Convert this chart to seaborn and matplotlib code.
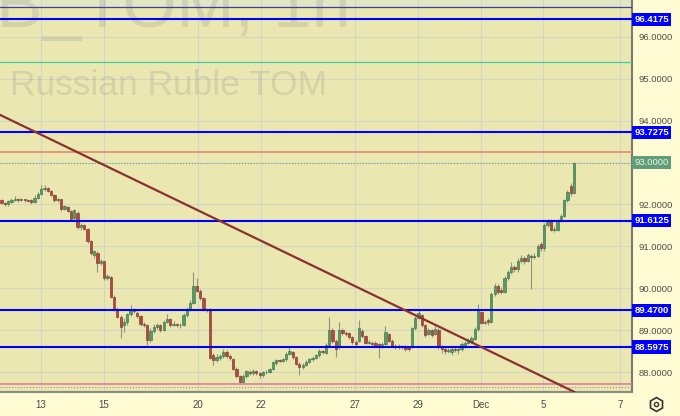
import numpy as np
import pandas as pd
import matplotlib as mpl
mpl.use('Agg')
import matplotlib.pyplot as plt
import matplotlib.transforms as mtransforms
from matplotlib.lines import Line2D
import seaborn as sns

# hourly candles, USD/RUB TOM, Nov 10 - Dec 6
opens = [92.11, 92.03, 92.00, 92.06, 92.10, 92.14, 92.10, 92.12, 92.10, 92.10,
         92.05, 92.15, 92.25, 92.36, 92.39, 92.32, 92.23, 92.10, 92.12, 91.90,
         91.95, 91.85, 91.68, 91.80, 91.46, 91.50, 91.42, 91.12, 90.80, 90.85,
         90.60, 90.64, 90.25, 90.28, 89.80, 89.50, 89.32, 89.12, 89.20, 89.38,
         89.48, 89.42, 89.33, 89.15, 89.12, 88.77, 88.98, 89.08, 89.12, 89.00,
         89.20, 89.26, 89.12, 89.14, 89.12, 89.12, 89.36, 89.48, 89.66, 90.05,
         89.94, 89.77, 89.50, 89.49, 88.40, 88.29, 88.33, 88.38, 88.48, 88.38,
         88.30, 88.08, 87.90, 87.76, 87.90, 88.00, 87.97, 88.02, 87.97, 87.92,
         87.99, 88.00, 88.07, 88.22, 88.28, 88.27, 88.30, 88.43, 88.48, 88.36,
         88.20, 88.12, 88.17, 88.24, 88.30, 88.34, 88.40, 88.50, 88.45, 88.65,
         89.00, 88.75, 88.60, 89.00, 88.93, 88.93, 88.83, 88.72, 88.75, 88.98,
         88.86, 88.70, 88.70, 88.70, 88.66, 88.62, 88.68, 88.90, 88.75, 88.63,
         88.60, 88.62, 88.62, 88.58, 88.60, 89.05, 89.30, 89.35, 89.12, 88.92,
         89.00, 88.92, 89.00, 88.60, 88.55, 88.50, 88.48, 88.56, 88.52, 88.55,
         88.62, 88.70, 88.74, 88.80, 89.03, 89.43, 89.18, 89.25, 89.20, 89.87,
         90.06, 89.96, 89.91, 90.25, 90.39, 90.50, 90.45, 90.65, 90.73, 90.65,
         90.77, 90.75, 90.78, 91.05, 90.95, 91.50, 91.62, 91.40, 91.40, 91.62,
         91.73, 92.10, 92.44, 92.28]
closes = [92.03, 92.00, 92.08, 92.11, 92.14, 92.10, 92.12, 92.10, 92.09, 92.05,
          92.15, 92.25, 92.36, 92.39, 92.32, 92.23, 92.10, 92.12, 91.88, 91.96,
          91.85, 91.66, 91.86, 91.46, 91.50, 91.42, 91.12, 90.83, 90.88, 90.60,
          90.66, 90.25, 90.30, 89.80, 89.50, 89.32, 89.07, 89.20, 89.38, 89.48,
          89.45, 89.33, 89.15, 89.12, 88.77, 88.98, 89.08, 89.12, 89.00, 89.20,
          89.26, 89.12, 89.14, 89.12, 89.13, 89.36, 89.48, 89.66, 90.05, 89.94,
          89.77, 89.50, 89.49, 88.34, 88.29, 88.36, 88.38, 88.48, 88.38, 88.33,
          88.08, 87.90, 87.76, 87.90, 88.02, 87.97, 88.03, 87.97, 87.93, 87.99,
          88.01, 88.07, 88.23, 88.28, 88.27, 88.30, 88.43, 88.50, 88.36, 88.20,
          88.12, 88.17, 88.24, 88.30, 88.34, 88.40, 88.50, 88.48, 88.65, 89.00,
          88.75, 88.55, 89.00, 88.93, 88.90, 88.83, 88.72, 88.67, 89.05, 88.86,
          88.70, 88.72, 88.67, 88.65, 88.62, 88.68, 88.95, 88.75, 88.63, 88.60,
          88.62, 88.60, 88.55, 88.55, 89.05, 89.30, 89.42, 89.12, 88.88, 89.00,
          88.88, 89.02, 88.60, 88.55, 88.50, 88.53, 88.56, 88.52, 88.55, 88.68,
          88.70, 88.77, 88.81, 89.03, 89.48, 89.18, 89.20, 89.20, 89.87, 90.06,
          89.91, 89.91, 90.25, 90.39, 90.50, 90.45, 90.65, 90.73, 90.65, 90.80,
          90.75, 90.78, 91.00, 90.95, 91.50, 91.60, 91.40, 91.42, 91.62, 91.73,
          92.10, 92.30, 92.28, 93.00]
highs = [92.14, 92.07, 92.10, 92.16, 92.21, 92.16, 92.15, 92.14, 92.13, 92.12,
         92.22, 92.29, 92.46, 92.47, 92.41, 92.35, 92.25, 92.15, 92.14, 91.99,
         91.97, 91.87, 91.90, 91.84, 91.56, 91.53, 91.45, 91.15, 90.92, 90.88,
         90.70, 90.66, 90.35, 90.30, 89.84, 89.55, 89.35, 89.28, 89.42, 89.60,
         89.52, 89.46, 89.36, 89.20, 89.15, 89.05, 89.14, 89.18, 89.15, 89.25,
         89.38, 89.30, 89.22, 89.17, 89.18, 89.40, 89.55, 89.72, 90.39, 90.25,
         89.98, 89.80, 89.54, 89.52, 88.45, 88.42, 88.44, 88.55, 88.53, 88.42,
         88.33, 88.12, 87.94, 87.95, 88.06, 88.04, 88.08, 88.05, 88.00, 88.03,
         88.05, 88.10, 88.27, 88.32, 88.31, 88.34, 88.47, 88.60, 88.51, 88.39,
         88.23, 88.21, 88.28, 88.34, 88.38, 88.44, 88.55, 88.53, 88.70, 89.31,
         89.05, 88.79, 89.20, 89.04, 88.97, 88.96, 88.86, 88.76, 89.24, 89.02,
         88.89, 88.77, 88.74, 88.73, 88.69, 88.72, 89.10, 88.93, 88.78, 88.66,
         88.66, 88.65, 88.65, 88.62, 89.08, 89.34, 89.47, 89.38, 89.15, 89.04,
         89.03, 89.10, 89.04, 88.64, 88.59, 88.57, 88.60, 88.60, 88.60, 88.72,
         88.74, 88.82, 88.85, 89.07, 89.62, 89.46, 89.25, 89.30, 89.92, 90.12,
         90.10, 90.02, 90.30, 90.44, 90.62, 90.56, 90.72, 90.80, 90.78, 90.85,
         90.82, 90.84, 91.06, 91.10, 91.55, 91.66, 91.66, 91.48, 91.66, 91.78,
         92.14, 92.34, 92.52, 93.02]
lows = [92.00, 91.96, 91.97, 92.03, 92.08, 92.07, 92.08, 92.07, 92.06, 92.00,
        92.03, 92.13, 92.23, 92.33, 92.29, 92.20, 92.07, 92.06, 91.85, 91.86,
        91.82, 91.60, 91.62, 91.42, 91.40, 91.38, 91.08, 90.80, 90.72, 90.40,
        90.55, 90.20, 90.20, 89.76, 89.46, 89.28, 88.82, 88.95, 89.12, 89.34,
        89.40, 89.28, 89.10, 89.08, 88.65, 88.72, 88.94, 89.02, 88.96, 88.98,
        89.16, 89.08, 89.10, 89.08, 89.05, 89.10, 89.32, 89.45, 89.62, 89.90,
        89.73, 89.46, 89.44, 88.30, 88.17, 88.24, 88.28, 88.34, 88.33, 88.28,
        88.04, 87.86, 87.74, 87.74, 87.86, 87.92, 87.94, 87.93, 87.86, 87.89,
        87.95, 87.97, 88.04, 88.18, 88.23, 88.24, 88.27, 88.40, 88.32, 88.16,
        87.93, 88.08, 88.14, 88.21, 88.27, 88.31, 88.37, 88.44, 88.42, 88.62,
        88.70, 88.35, 88.56, 88.89, 88.86, 88.79, 88.68, 88.63, 88.72, 88.82,
        88.66, 88.66, 88.63, 88.60, 88.34, 88.58, 88.65, 88.71, 88.59, 88.56,
        88.56, 88.56, 88.51, 88.51, 88.57, 89.00, 89.26, 89.08, 88.84, 88.88,
        88.84, 88.89, 88.56, 88.46, 88.42, 88.46, 88.40, 88.48, 88.42, 88.50,
        88.58, 88.66, 88.70, 88.76, 88.98, 89.14, 89.14, 89.12, 89.16, 89.82,
        89.86, 89.86, 89.88, 90.20, 90.35, 90.38, 90.40, 90.60, 90.58, 90.62,
        89.99, 90.70, 90.74, 90.90, 90.90, 91.46, 91.36, 91.34, 91.36, 91.58,
        91.70, 92.05, 92.20, 92.24]

# day axis: 0 = Nov 13
day_ticks = [0, 2, 5, 7, 10, 12, 14, 16, 18.44]
day_labels = ['13', '15', '20', '22', '27', '29', 'Dec', '5', '7']
price_ticks = [88, 89, 90, 91, 92, 93, 94, 95, 96]

level_prices = [96.4175, 93.7275, 91.6125, 89.47, 88.5975]
level_labels = ['96.4175', '93.7275', '91.6125', '89.4700', '88.5975']
last_price = 93.0
top_line = 96.72
green_line = 95.40
salmon_line = 93.25
pink_line = 87.72
low_dotted = 87.645

trend_days = [-1.31, 17.0]
trend_prices = [94.14, 87.52]

sns.set_style('white')
plt.rcParams['font.family'] = ['Liberation Sans', 'DejaVu Sans']

fig = plt.figure(figsize=(6.8, 4.16), dpi=100, facecolor='#fffbd2')
ax = fig.add_axes([0, 24 / 416, 632 / 680, 392 / 416])
ax.set_facecolor('#ebe7b1')

df = pd.DataFrame({'Open': opens, 'High': highs, 'Low': lows,
                   'Close': closes})
df['Pos'] = np.linspace(-1.258, 16.975, len(df))
df['Up'] = df['Close'] >= df['Open']
df['Body'] = (df['Close'] - df['Open']).abs().clip(lower=0.012)
df['Base'] = df[['Open', 'Close']].min(axis=1)

ax.set_xlim(-1.306, 18.82)
ax.set_ylim(87.524, 96.88)

ax.axhspan(top_line, 97.5, color='#e1e6c3', zorder=0, lw=0)

trans = mtransforms.blended_transform_factory(ax.transAxes, ax.transData)
ax.text(350 / 632, 96.24, 'USDRUB_TOM, 1h', transform=trans, ha='right',
        va='baseline', fontsize=50, color='#7f7f7f', alpha=0.2, zorder=1)
ax.text(10 / 632, 94.62, 'Russian Ruble TOM', transform=trans, ha='left',
        va='baseline', fontsize=25.5, color='#7f7f7f', alpha=0.2, zorder=1)

ax.vlines(df['Pos'], df['Low'], df['High'], color='#8e9486', lw=0.8,
          zorder=3)
for is_up, fc, ec in [(True, '#569a68', '#2f6a3f'),
                      (False, '#b04a3c', '#7a2a20')]:
    sub = df[df['Up'] == is_up]
    ax.bar(sub['Pos'], sub['Body'], bottom=sub['Base'], width=0.072,
           color=fc, edgecolor=ec, linewidth=0.4, zorder=4)

ax.axhline(top_line, color='#3d3da8', lw=0.9, zorder=5)
ax.axhline(green_line, color='#3fd09f', lw=0.9, zorder=5)
ax.axhline(salmon_line, color='#e3826a', lw=1.1, zorder=5)
ax.axhline(pink_line, color='#e0749a', lw=1.1, zorder=5)
ax.axhline(low_dotted, color='#9a9a90', lw=0.8, ls=':', zorder=5)
ax.axhline(last_price, color='#6f9f83', lw=0.8, ls=':', zorder=5)
for p in level_prices:
    ax.axhline(p, color='#0000ff', lw=1.5, zorder=5)

sns.lineplot(x=trend_days, y=trend_prices, ax=ax, color='#8b3030', lw=1.6,
             zorder=6)

for p, lbl in zip(level_prices, level_labels):
    ax.text(1.004, p, lbl, transform=trans, ha='left', va='center',
            fontsize=6.8, weight='bold', color='white', clip_on=False,
            zorder=10, bbox=dict(boxstyle='square,pad=0.22', fc='#0000ff',
                                 ec='none'))
ax.text(1.004, last_price, '{:.4f}'.format(last_price), transform=trans,
        ha='left', va='center', fontsize=6.8, color='#eef3e6', clip_on=False,
        zorder=10, bbox=dict(boxstyle='square,pad=0.22', fc='#5f9e79',
                             ec='none'))

# the last-price box sits where the 93 tick label would be
ax.yaxis.tick_right()
ax.set_yticks(price_ticks)
ax.set_yticklabels(['' if p == last_price else '{:.4f}'.format(p)
                    for p in price_ticks])
ax.tick_params(axis='y', length=0, pad=5, labelsize=6.8,
               labelcolor='#4d4d4d')
ax.set_xticks(day_ticks)
ax.set_xticklabels(day_labels)
ax.tick_params(axis='x', length=0, pad=6, labelsize=7, labelcolor='#4a4a4a')

ax.grid(True, color='#d3d6c6', lw=0.8)
ax.set_axisbelow(True)
for side in ['left', 'top']:
    ax.spines[side].set_visible(False)
ax.spines['right'].set_color('#7a7a74')
ax.spines['right'].set_linewidth(1.5)
ax.spines['bottom'].set_color('#8a8a84')
ax.spines['bottom'].set_linewidth(1.5)
ax.set_xlabel('')
ax.set_ylabel('')

fig.add_artist(Line2D([656 / 680], [12 / 416], marker='h', ms=10,
                      mfc='none', mec='#333333', mew=1.2,
                      transform=fig.transFigure))
fig.add_artist(Line2D([656 / 680], [12 / 416], marker='o', ms=3,
                      mfc='none', mec='#333333', mew=1.0,
                      transform=fig.transFigure))

fig.savefig('out.png', dpi=100, facecolor=fig.get_facecolor())
